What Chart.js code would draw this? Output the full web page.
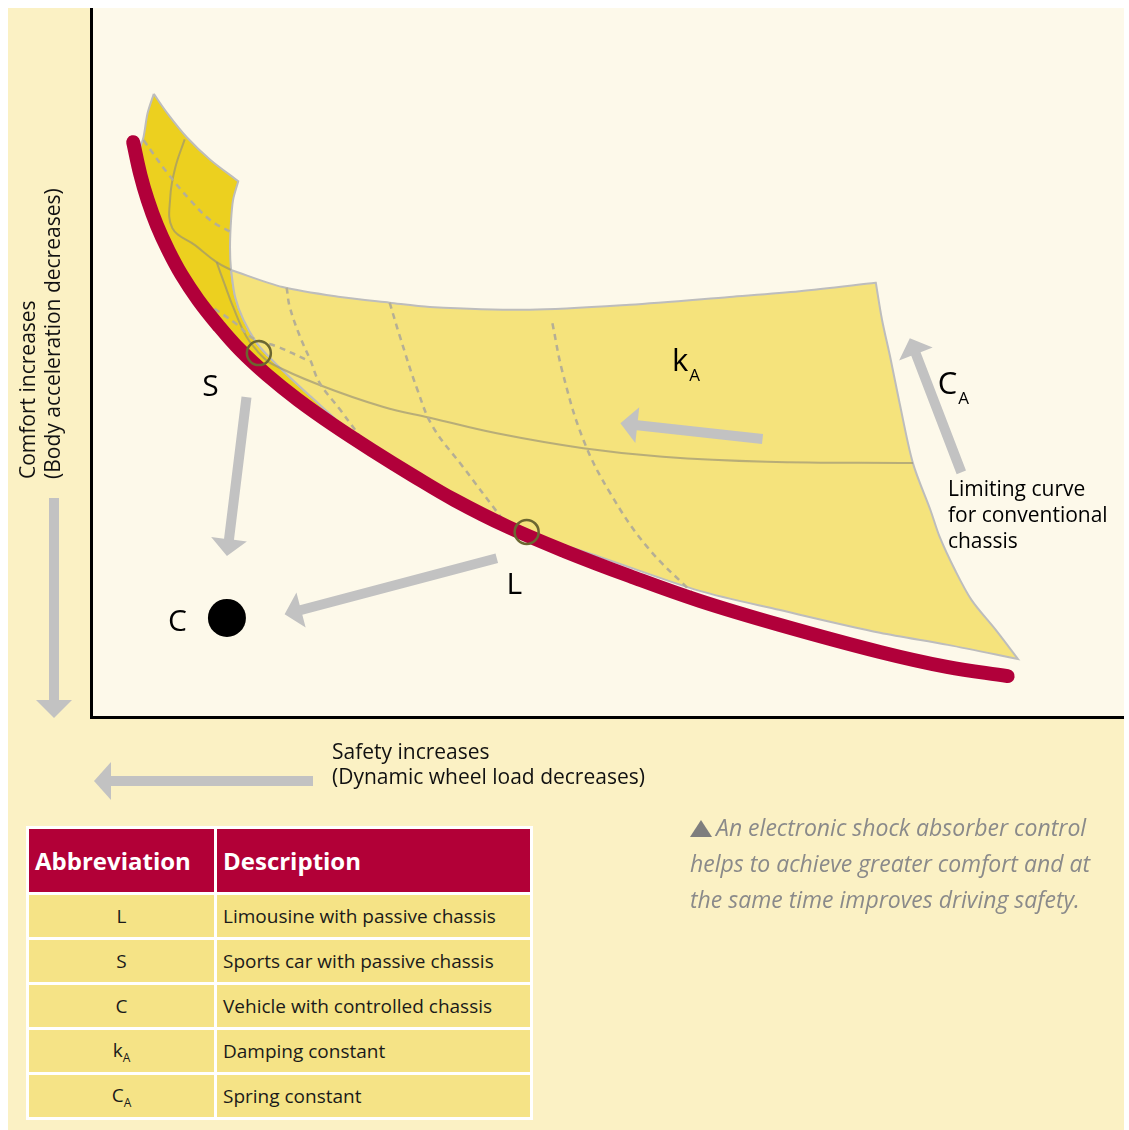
<!DOCTYPE html>
<html><head><meta charset="utf-8">
<script src="https://cdn.jsdelivr.net/npm/chart.js@4.4.1/dist/chart.umd.min.js"></script>
<style>
html,body{margin:0;padding:0;background:#fff;width:1129px;height:1130px;overflow:hidden;font-family:"Open Sans",sans-serif;}
#outer{position:absolute;left:8px;top:8px;width:1116px;height:1122px;background:#FBF1C4;}
#plotbg{position:absolute;left:90px;top:8px;width:1031px;height:708px;background:#FDF9EA;border-left:3px solid #000;border-bottom:3px solid #000;}
#c{position:absolute;left:0;top:0;z-index:2;}
.axlab{position:absolute;font-size:21px;line-height:25px;color:#111;white-space:nowrap;z-index:3;}
#ylab{left:15px;top:479px;transform-origin:0 0;transform:rotate(-90deg);}
#xlab{left:332px;top:739px;}
#axarrows{position:absolute;left:0;top:0;z-index:1;}
#tbl{position:absolute;left:26px;top:826px;width:507px;border-collapse:separate;border-spacing:3px;background:#fff;table-layout:fixed;z-index:3;}
#tbl th{background:#B20037;color:#fff;font-weight:700;font-size:24px;height:63px;text-align:left;padding:0 0 0 6px;box-sizing:border-box;}
#tbl td{background:#F5E386;height:42px;font-size:19px;padding:0 0 0 6px;color:#1a1a1a;box-sizing:border-box;}
#tbl td.c1{text-align:center;padding:0;}
#tbl sub{font-size:12px;vertical-align:-5px;}
#cap{position:absolute;left:690px;top:809px;width:439px;font-size:23px;line-height:36px;color:#8A8A8A;font-style:italic;white-space:nowrap;z-index:3;}
#cap svg{vertical-align:-1px;margin-right:4px;}
</style></head>
<body>
<div id="outer"></div>
<div id="plotbg"></div>
<svg id="axarrows" width="1129" height="1130">
  <rect x="49" y="498" width="10" height="203" fill="#C2C2C2"/>
  <polygon points="36,700 72,700 54,718" fill="#C2C2C2"/>
  <rect x="110" y="776" width="203" height="10" fill="#C2C2C2"/>
  <polygon points="111,762 111,800 94,781" fill="#C2C2C2"/>
</svg>
<canvas id="c" width="1129" height="1130"></canvas>
<div class="axlab" id="ylab">Comfort increases<br>(Body acceleration decreases)</div>
<div class="axlab" id="xlab">Safety increases<br>(Dynamic wheel load decreases)</div>
<table id="tbl"><colgroup><col style="width:185px"><col style="width:313px"></colgroup><tbody id="tb"></tbody></table>
<div id="cap"><svg width="22" height="17"><polygon points="0,17 22,17 11,0" fill="#7E7E7E"/></svg>An electronic shock absorber control<br>helps to achieve greater comfort and at<br>the same time improves driving safety.</div>
<script>
// ---- data (diagram units, x: 0-100 along safety axis, y: 0-100 along comfort axis) ----
const limitingCurve = [[4.0,81.1],[4.7,76.5],[5.4,73.0],[6.3,69.4],[7.4,65.9],[8.7,62.4],[10.3,58.9],[12.2,55.4],[14.4,51.8],[17.0,48.3],[20.0,44.8],[23.4,41.3],[27.2,37.7],[31.1,34.2],[35.2,30.7],[40.4,26.9],[45.9,23.5],[52.2,20.0],[59.0,16.5],[66.8,13.1],[76.5,9.3],[83.0,7.2],[88.9,5.9]];
const sportsSheet = [[6.0,87.9],[6.0,87.9],[7.3,85.2],[9.2,81.8],[11.5,78.6],[14.2,75.6],[14.2,75.6],[13.7,73.0],[13.5,70.1],[13.4,66.3],[13.5,63.1],[13.9,59.3],[14.7,56.1],[16.0,52.8],[17.1,51.0],[19.2,48.0],[21.3,45.2],[23.5,42.3],[23.5,42.3],[20.0,44.8],[17.0,48.3],[14.4,51.8],[12.2,55.4],[10.3,58.9],[8.7,62.4],[7.4,65.9],[6.3,69.4],[5.4,73.0],[4.7,76.5],[4.5,79.3],[5.0,81.8],[5.4,85.2],[6.0,87.9]];
const comfortSheet = [[13.5,63.1],[13.5,63.1],[18.5,60.7],[24.1,59.3],[28.9,58.5],[32.8,57.9],[42.5,57.5],[52.2,58.2],[61.9,59.3],[68.7,60.1],[76.1,61.3],[76.1,61.3],[76.7,56.1],[77.5,50.8],[78.4,44.4],[79.7,35.9],[81.4,29.3],[82.3,25.5],[83.8,20.8],[85.4,16.6],[87.8,12.3],[89.9,8.3],[89.9,8.3],[83.1,10.3],[76.5,12.0],[66.8,15.2],[59.0,17.9],[49.3,22.7],[43.5,25.5],[39.6,27.9],[34.8,31.0],[29.9,35.2],[25.5,39.4],[23.5,42.3],[23.5,42.3],[21.3,45.2],[19.2,48.0],[17.1,51.0],[16.0,52.8],[14.7,56.1],[13.9,59.3],[13.5,63.1]];
const springLineUpper = [[9.0,81.5],[8.1,77.6],[7.6,73.4],[7.8,69.0],[10.0,66.6],[12.1,64.2],[13.5,63.1]];
const springLineS = [[12.1,64.2],[12.9,61.0],[13.7,57.9],[15.0,53.7],[16.2,51.4]];
const springLineMid = [[16.2,51.4],[17.3,50.0],[22.1,46.9],[28.3,43.8],[32.8,42.3],[39.3,40.1],[47.7,38.0],[55.4,36.8],[65.5,36.1],[79.7,35.9]];
const dampLine0 = [[5.0,81.4],[7.3,76.8],[9.5,73.0],[11.5,70.1],[13.4,68.5]];
const dampLineS = [[11.0,58.5],[14.1,55.4],[15.6,53.5],[18.0,52.3],[20.9,50.4]];
const dampLine1 = [[18.9,60.6],[19.2,57.9],[20.2,53.7],[21.2,50.4],[22.1,47.2],[24.1,43.4],[27.0,37.7]];
const dampLine2 = [[28.9,58.5],[29.9,53.7],[31.6,46.2],[33.1,41.0],[36.0,35.4],[39.9,27.9]];
const dampLine3 = [[44.7,55.6],[45.7,48.6],[47.7,39.2],[50.3,31.7],[53.9,24.1],[58.3,17.6]];
const vehiclePoints = [[16.2,51.4],[42.2,26.2]];   // S, L
const controlledPoint = [[13.1,14.1]];             // C
const arrows = [[15.0,45.2,13.1,22.8],[39.3,22.5,18.7,14.6],[65.1,39.3,51.3,41.5],[84.4,34.6,79.4,53.5]];
const labels = [['S',11.5,46.6],['L',41.0,18.7],['C',8.3,13.4]];
const subLabels = [['k','A',56.3,50.1],['C','A',82.1,46.9]];
const noteLines = ['Limiting curve','for conventional','chassis'];
const noteX = 83.1, noteY = [32.1,28.5,24.8];
const abbreviations = [['L',''],['S',''],['C',''],['k','A'],['C','A']];
const descriptions = ['Limousine with passive chassis','Sports car with passive chassis','Vehicle with controlled chassis','Damping constant','Spring constant'];

// ---- table ----
const tb = document.getElementById('tb');
let h = '<tr><th>Abbreviation</th><th>Description</th></tr>';
abbreviations.forEach((a,i)=>{ h += '<tr><td class="c1">'+a[0]+(a[1]?'<sub>'+a[1]+'</sub>':'')+'</td><td>'+descriptions[i]+'</td></tr>'; });
tb.innerHTML = h;

const toXY = arr => arr.map(p=>({x:p[0],y:p[1]}));
const line = (arr, o) => Object.assign({type:'scatter', data:toXY(arr), showLine:true, pointRadius:0, fill:false, tension:0.4}, o);
const solid = {borderColor:'rgba(150,145,118,0.65)', borderWidth:2};
const dashed = {borderColor:'#B5AF95', borderWidth:2.5, borderDash:[6,5]};

const arrowPlugin = {
  id:'arrows',
  afterDatasetsDraw(chart){
    const {ctx, scales:{x,y}} = chart;
    ctx.save();
    ctx.fillStyle = '#C2C2C2';
    arrows.forEach(a=>{
      const x0=x.getPixelForValue(a[0]), y0=y.getPixelForValue(a[1]);
      const x1=x.getPixelForValue(a[2]), y1=y.getPixelForValue(a[3]);
      const dx=x1-x0, dy=y1-y0, L=Math.hypot(dx,dy), ux=dx/L, uy=dy/L, nx=-uy, ny=ux;
      const hl=17, hw=18, sw=5;
      const bx=x1-ux*hl, by=y1-uy*hl;
      ctx.beginPath();
      ctx.moveTo(x0+nx*sw,y0+ny*sw);
      ctx.lineTo(bx+nx*sw,by+ny*sw);
      ctx.lineTo(bx+nx*hw,by+ny*hw);
      ctx.lineTo(x1,y1);
      ctx.lineTo(bx-nx*hw,by-ny*hw);
      ctx.lineTo(bx-nx*sw,by-ny*sw);
      ctx.lineTo(x0-nx*sw,y0-ny*sw);
      ctx.closePath(); ctx.fill();
    });
    ctx.fillStyle = '#000';
    ctx.textBaseline = 'middle';
    ctx.textAlign = 'center';
    ctx.font = '30px "Open Sans"';
    labels.forEach(l=>ctx.fillText(l[0], x.getPixelForValue(l[1]), y.getPixelForValue(l[2])));
    ctx.textAlign = 'left';
    subLabels.forEach(l=>{
      const px=x.getPixelForValue(l[2]), py=y.getPixelForValue(l[3]);
      ctx.font = '31px "Open Sans"';
      ctx.fillText(l[0], px, py);
      const w = ctx.measureText(l[0]).width;
      ctx.font = '17px "Open Sans"';
      ctx.fillText(l[1], px+w+1, py+14);
    });
    ctx.font = '21px "Open Sans"';
    noteLines.forEach((t,i)=>ctx.fillText(t, x.getPixelForValue(noteX), y.getPixelForValue(noteY[i])));
    ctx.restore();
  }
};

new Chart(document.getElementById('c'), {
  type:'scatter',
  data:{datasets:[
    line(sportsSheet,{fill:'shape', backgroundColor:'#ECD01F', borderColor:'#BDBDBD', borderWidth:2, tension:0.3, order:10}),
    line(comfortSheet,{fill:'shape', backgroundColor:'#F5E37C', borderColor:'#BDBDBD', borderWidth:2, tension:0.3, order:9}),
    line(springLineUpper,Object.assign({order:8},solid)),
    line(springLineS,Object.assign({order:8},solid)),
    line(springLineMid,Object.assign({order:8},solid)),
    line(dampLine0,Object.assign({order:7},dashed)),
    line(dampLineS,Object.assign({order:7},dashed)),
    line(dampLine1,Object.assign({order:7},dashed)),
    line(dampLine2,Object.assign({order:7},dashed)),
    line(dampLine3,Object.assign({order:7},dashed)),
    line(limitingCurve,{borderColor:'#B1003A', borderWidth:14, borderCapStyle:'round', borderJoinStyle:'round', order:5}),
    {type:'scatter', data:toXY(vehiclePoints), pointRadius:12, pointBorderWidth:2.5, pointBackgroundColor:'rgba(0,0,0,0)', pointBorderColor:'#6B6630', order:4},
    {type:'scatter', data:toXY(controlledPoint), pointRadius:19, pointBorderWidth:0, pointBackgroundColor:'#000', order:3}
  ]},
  options:{
    responsive:false, animation:false, events:[],
    layout:{autoPadding:false, padding:{left:92,right:7,top:8,bottom:412}},
    scales:{x:{type:'linear',min:0,max:100,display:false},y:{type:'linear',min:0,max:100,display:false}},
    plugins:{legend:{display:false},tooltip:{enabled:false}},
    clip:false
  },
  plugins:[arrowPlugin]
});
</script>
</body></html>
